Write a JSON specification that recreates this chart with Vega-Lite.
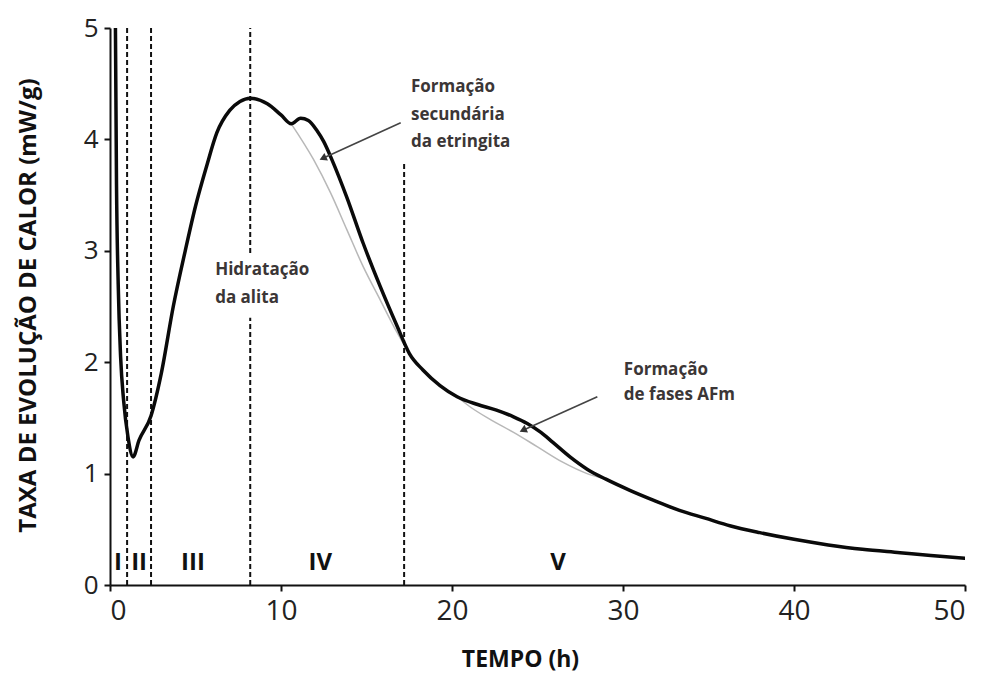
{
  "$schema": "https://vega.github.io/schema/vega-lite/v6.json",
  "width": 855,
  "height": 557,
  "autosize": {"type": "none"},
  "padding": {"left": 110, "top": 28, "right": 20, "bottom": 90},
  "background": "white",
  "config": {
    "view": {"stroke": null},
    "axis": {
      "grid": false,
      "domainColor": "#111",
      "domainWidth": 2,
      "tickColor": "#111",
      "tickWidth": 2,
      "tickSize": 6,
      "labelFont": "Open Sans",
      "labelColor": "#222",
      "titleFont": "Open Sans",
      "titleFontWeight": "bold",
      "titleColor": "#111"
    }
  },
  "datasets": {
    "curve": [
      {"t": 0.3, "q": 5.4}, {"t": 0.38, "q": 3.6}, {"t": 0.48, "q": 2.7}, {"t": 0.62, "q": 2.05},
      {"t": 0.8, "q": 1.65}, {"t": 1.05, "q": 1.33}, {"t": 1.35, "q": 1.15}, {"t": 1.7, "q": 1.3},
      {"t": 2.4, "q": 1.52}, {"t": 3.0, "q": 1.9}, {"t": 3.7, "q": 2.5}, {"t": 4.4, "q": 3.0},
      {"t": 5.0, "q": 3.4}, {"t": 5.65, "q": 3.76}, {"t": 6.25, "q": 4.06}, {"t": 7.0, "q": 4.26},
      {"t": 7.6, "q": 4.34}, {"t": 8.2, "q": 4.37}, {"t": 9.2, "q": 4.32}, {"t": 10.0, "q": 4.22},
      {"t": 10.6, "q": 4.14}, {"t": 11.15, "q": 4.19}, {"t": 11.6, "q": 4.17}, {"t": 12.1, "q": 4.08},
      {"t": 12.5, "q": 3.98}, {"t": 13.0, "q": 3.81}, {"t": 13.85, "q": 3.48}, {"t": 14.8, "q": 3.07},
      {"t": 15.8, "q": 2.68}, {"t": 16.8, "q": 2.32}, {"t": 17.5, "q": 2.08}, {"t": 18.3, "q": 1.93},
      {"t": 19.3, "q": 1.79}, {"t": 20.3, "q": 1.69}, {"t": 21.5, "q": 1.62}, {"t": 22.6, "q": 1.57},
      {"t": 23.6, "q": 1.51}, {"t": 24.4, "q": 1.45}, {"t": 25.2, "q": 1.37}, {"t": 25.9, "q": 1.28},
      {"t": 26.9, "q": 1.15}, {"t": 27.9, "q": 1.04}, {"t": 29.0, "q": 0.95}, {"t": 30.4, "q": 0.85},
      {"t": 31.8, "q": 0.76}, {"t": 33.3, "q": 0.67}, {"t": 34.8, "q": 0.6}, {"t": 36.3, "q": 0.53},
      {"t": 38.0, "q": 0.47}, {"t": 40.0, "q": 0.41}, {"t": 42.0, "q": 0.36}, {"t": 44.0, "q": 0.32},
      {"t": 46.2, "q": 0.29}, {"t": 48.0, "q": 0.265}, {"t": 50.0, "q": 0.24}
    ],
    "base": [
      {"seg": "a", "t": 10.6, "q": 4.14}, {"seg": "a", "t": 11.9, "q": 3.82}, {"seg": "a", "t": 12.9, "q": 3.52},
      {"seg": "a", "t": 13.85, "q": 3.19}, {"seg": "a", "t": 14.8, "q": 2.86}, {"seg": "a", "t": 15.8, "q": 2.56},
      {"seg": "a", "t": 16.6, "q": 2.32}, {"seg": "a", "t": 17.3, "q": 2.13},
      {"seg": "b", "t": 20.3, "q": 1.69}, {"seg": "b", "t": 21.05, "q": 1.6}, {"seg": "b", "t": 22.3, "q": 1.48},
      {"seg": "b", "t": 23.6, "q": 1.37}, {"seg": "b", "t": 25.0, "q": 1.24}, {"seg": "b", "t": 26.5, "q": 1.1},
      {"seg": "b", "t": 27.9, "q": 1.0}, {"seg": "b", "t": 29.0, "q": 0.95}
    ],
    "dividers": [
      {"t": 1.0, "lo": 0, "hi": 5},
      {"t": 2.4, "lo": 0, "hi": 5},
      {"t": 8.2, "lo": 2.98, "hi": 5},
      {"t": 8.2, "lo": 0, "hi": 2.4},
      {"t": 17.2, "lo": 0, "hi": 3.79}
    ],
    "phases": [
      {"t": 0.47, "q": 0.2, "label": "I"},
      {"t": 1.7, "q": 0.2, "label": "II"},
      {"t": 4.85, "q": 0.2, "label": "III"},
      {"t": 12.3, "q": 0.2, "label": "IV"},
      {"t": 26.2, "q": 0.2, "label": "V"}
    ],
    "notes": [
      {"t": 6.15, "q": 2.83, "label": "Hidratação"},
      {"t": 6.15, "q": 2.58, "label": " da alita"},
      {"t": 17.6, "q": 4.47, "label": "Formação"},
      {"t": 17.6, "q": 4.22, "label": "secundária"},
      {"t": 17.6, "q": 3.98, "label": "da etringita"},
      {"t": 30.05, "q": 1.93, "label": "Formação"},
      {"t": 30.05, "q": 1.71, "label": "de fases AFm"}
    ],
    "arrows": [
      {"t": 17.0, "q": 4.15, "t2": 12.45, "q2": 3.83},
      {"t": 28.5, "q": 1.69, "t2": 24.15, "q2": 1.39}
    ]
  },
  "layer": [
    {
      "data": {"name": "base"},
      "mark": {"type": "line", "color": "#b8b8b8", "strokeWidth": 1.5, "clip": true, "interpolate": "monotone"},
      "encoding": {
        "x": {"field": "t", "type": "quantitative", "scale": {"domain": [0, 50], "nice": false},
          "axis": {"values": [0, 10, 20, 30, 40, 50], "format": "d", "title": "TEMPO (h)", "labelFontSize": 28, "labelPadding": 6,
            "titleFontSize": 23, "titleX": 410, "titleY": 74, "titleBaseline": "middle"}},
        "y": {"field": "q", "type": "quantitative", "scale": {"domain": [0, 5], "nice": false},
          "axis": {"values": [0, 1, 2, 3, 4, 5], "format": "d", "title": "TAXA DE EVOLUÇÃO DE CALOR (mW/g)", "labelFontSize": 26,
            "labelPadding": 6, "titleFontSize": 24, "titleX": -82, "titleY": 277, "titleAngle": 270,
            "titleAlign": "center", "titleBaseline": "middle"}},
        "detail": {"field": "seg"}
      }
    },
    {
      "data": {"name": "dividers"},
      "mark": {"type": "rule", "color": "#111", "strokeWidth": 2, "strokeDash": [5, 3]},
      "encoding": {
        "x": {"field": "t", "type": "quantitative"},
        "y": {"field": "lo", "type": "quantitative"},
        "y2": {"field": "hi"}
      }
    },
    {
      "data": {"name": "curve"},
      "mark": {"type": "line", "color": "#0a0a0a", "strokeWidth": 3.5, "clip": true, "interpolate": "monotone", "strokeJoin": "round", "strokeCap": "round"},
      "encoding": {
        "x": {"field": "t", "type": "quantitative"},
        "y": {"field": "q", "type": "quantitative"}
      }
    },
    {
      "data": {"name": "arrows"},
      "mark": {"type": "rule", "color": "#444", "strokeWidth": 1.6},
      "encoding": {
        "x": {"field": "t", "type": "quantitative"},
        "y": {"field": "q", "type": "quantitative"},
        "x2": {"field": "t2"},
        "y2": {"field": "q2"}
      }
    },
    {
      "data": {"name": "arrows"},
      "mark": {"type": "point", "shape": "triangle-up", "filled": true, "color": "#333", "size": 70, "angle": 245, "opacity": 1},
      "encoding": {
        "x": {"field": "t2", "type": "quantitative"},
        "y": {"field": "q2", "type": "quantitative"}
      }
    },
    {
      "data": {"name": "phases"},
      "mark": {"type": "text", "font": "Open Sans", "fontWeight": "bold", "fontSize": 24, "color": "#111", "align": "center", "baseline": "middle"},
      "encoding": {
        "x": {"field": "t", "type": "quantitative"},
        "y": {"field": "q", "type": "quantitative"},
        "text": {"field": "label"}
      }
    },
    {
      "data": {"name": "notes"},
      "mark": {"type": "text", "font": "Open Sans", "fontWeight": "bold", "fontSize": 17, "color": "#3b3636", "align": "left", "baseline": "middle"},
      "encoding": {
        "x": {"field": "t", "type": "quantitative"},
        "y": {"field": "q", "type": "quantitative"},
        "text": {"field": "label"}
      }
    }
  ]
}
